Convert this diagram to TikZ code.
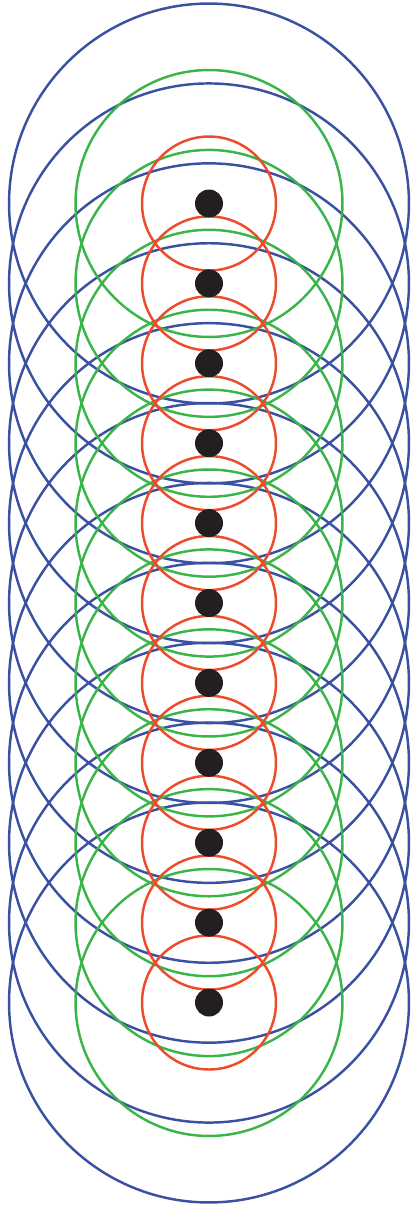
\documentclass[tikz,border=0pt]{standalone}
\usetikzlibrary{positioning}

\definecolor{ringblue}{HTML}{3A50A0}
\definecolor{ringgreen}{HTML}{3BB54A}
\definecolor{ringred}{HTML}{EE4B2B}
\definecolor{dotblack}{HTML}{231F20}

\tikzset{
    dot/.style={circle, fill=dotblack, minimum size=0.56cm, inner sep=0pt},
    ring/.style={line width=1.4pt}
}

\begin{document}
\begin{tikzpicture}[x=0.02cm, y=-0.02cm]

    % Frame
    \useasboundingbox (0,0) rectangle (411,1207);

    % Centres of the dots
    \foreach \i in {0,...,10}
        \coordinate (c\i) at (209, 203.5+79.9*\i);

    % Outer rings
    \foreach \i in {0,...,10}
        \draw[ring, ringblue] (c\i) circle (4cm);

    % Middle rings
    \foreach \i in {0,...,10}
        \draw[ring, ringgreen] (c\i) circle (2.67cm);

    % Inner rings
    \foreach \i in {0,...,10}
        \draw[ring, ringred] (c\i) circle (1.34cm);

    % Dots
    \foreach \i in {0,...,10}
        \node[dot] (d\i) at (c\i) {};

\end{tikzpicture}
\end{document}
